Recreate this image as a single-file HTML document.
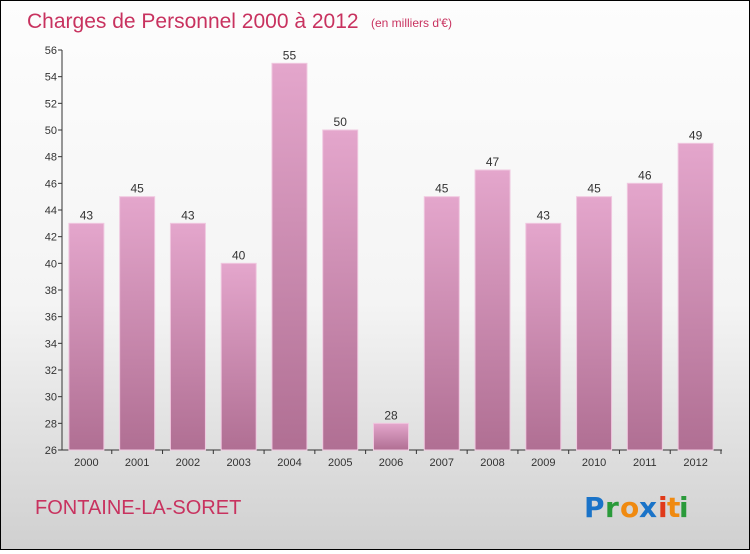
<!DOCTYPE html>
<html><head><meta charset="utf-8"><style>
html,body{margin:0;padding:0}
body{width:750px;height:550px;overflow:hidden;font-family:"Liberation Sans",sans-serif}
#wrap{position:relative;width:748px;height:548px;border:1px solid #000;background:linear-gradient(#fdfdfd 0%,#f4f4f4 55%,#d0d0d0 100%)}
</style></head><body>
<div id="wrap">
<svg id="chart" width="748" height="548">
<defs><linearGradient id="bg" x1="0" y1="0" x2="0" y2="1"><stop offset="0" stop-color="#e4a6cc"/><stop offset="1" stop-color="#b06f93"/></linearGradient></defs>
<text x="26" y="27" font-size="21" fill="#c8325f">Charges de Personnel 2000 à 2012</text>
<text x="370" y="26" font-size="12" fill="#c8325f">(en milliers d'€)</text>
<text x="34" y="513" font-size="20" fill="#c8325f">FONTAINE-LA-SORET</text>
<g font-size="28" font-weight="bold" font-family="'DejaVu Sans',sans-serif">
<text x="583" y="516" fill="#1a73c8">P</text><text x="604" y="516" fill="#2a9a3a">r</text><text x="619" y="516" fill="#f08a10">o</text><text x="638" y="516" fill="#1a73c8">x</text><text x="657" y="516" fill="#e03a1a">i</text><text x="666" y="516" fill="#f08a10">t</text><text x="678" y="516" fill="#2a9a3a">i</text>
</g>
<g id="axes"></g><g id="bars"></g>
</svg>
</div>
<script>
const years=["2000","2001","2002","2003","2004","2005","2006","2007","2008","2009","2010","2011","2012"];
const values=[43,45,43,40,55,50,28,45,47,43,45,46,49];
const yTicks=[26,28,30,32,34,36,38,40,42,44,46,48,50,52,54,56];
const NS="http://www.w3.org/2000/svg";
const x0=60,x1=720,yTop=49,yBot=449,ymin=26,ymax=56,axX=61;
const yS=v=>yBot-(v-ymin)/(ymax-ymin)*(yBot-yTop);
const step=(x1-x0)/years.length;
const xC=i=>x0+step*(i+0.5);
function mk(t,a,p){const e=document.createElementNS(NS,t);for(const k in a)e.setAttribute(k,a[k]);p.appendChild(e);return e;}
const ax=document.getElementById('axes'),bars=document.getElementById('bars');
const yl=mk('line',{x1:axX,x2:axX,y1:yTop,y2:yBot,stroke:'#333'},ax);


const xl=mk('line',{x1:axX,x2:x1+1,y1:yBot,y2:yBot,stroke:'#333'},ax);


yTicks.forEach(v=>{const y=yS(v);
mk('line',{x1:axX-4,x2:axX,y1:y,y2:y,stroke:'#333'},ax);
const t=mk('text',{x:axX-5,y:y+4,'font-size':11,fill:'#333','text-anchor':'end'},ax);t.textContent=v;

});
years.forEach((yr,i)=>{const c=xC(i),v=values[i],w=35;
mk('line',{x1:x0+step*(i+1),x2:x0+step*(i+1),y1:yBot,y2:yBot+4,stroke:'#333'},ax);
const r=mk('rect',{x:c-w/2,y:yS(v),width:w,height:yBot-yS(v),fill:'url(#bg)',stroke:'#f0c8e0','stroke-width':1},bars);


const lt=mk('text',{x:c,y:yS(v)-4,'font-size':12,fill:'#333','text-anchor':'middle'},bars);lt.textContent=v;


const xt=mk('text',{x:c,y:yBot+16,'font-size':11,fill:'#333','text-anchor':'middle'},ax);xt.textContent=yr;

});
</script>
</body></html>
